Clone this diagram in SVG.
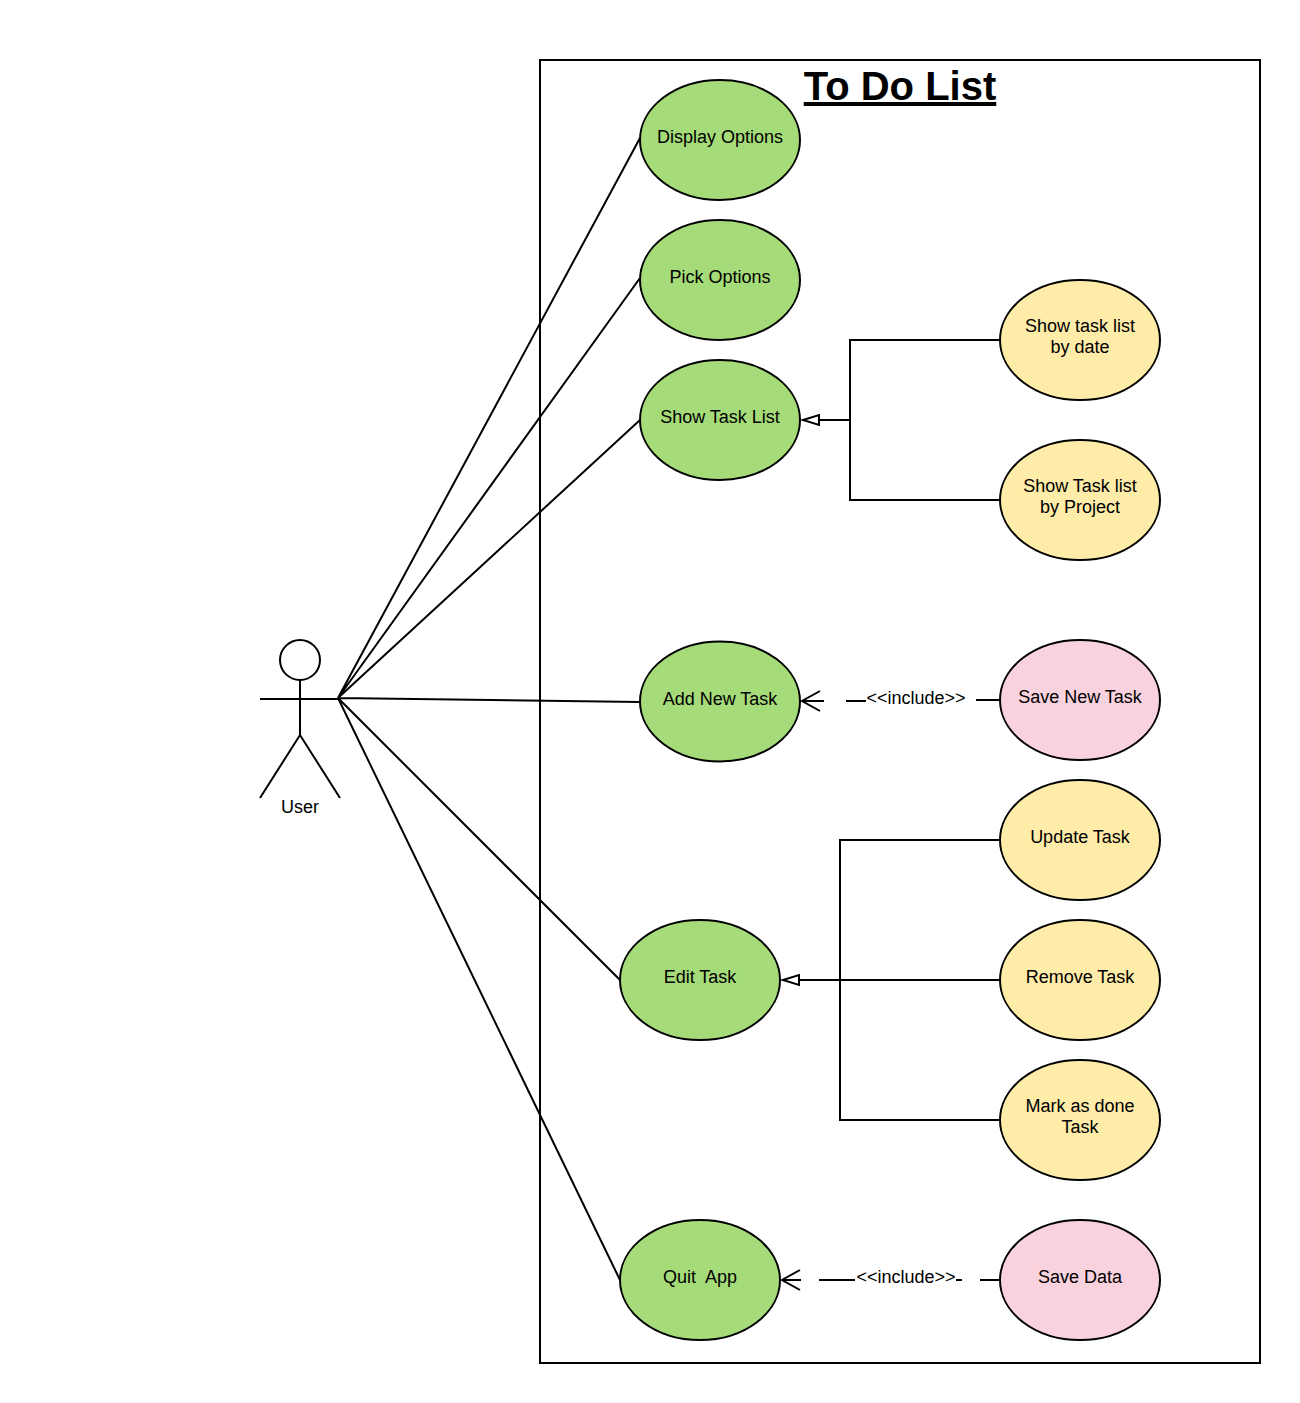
<svg xmlns="http://www.w3.org/2000/svg" width="1300" height="1403" viewBox="0 0 1300 1403">
<style>
text{font-family:"Liberation Sans",Arial,sans-serif;font-size:18px;fill:#000;text-anchor:middle}
.s{fill:none;stroke:#000;stroke-width:2}
.t{fill:#fff;stroke:#000;stroke-width:2}
.g{fill:#a5db78;stroke:#000;stroke-width:2}
.y{fill:#ffeca9;stroke:#000;stroke-width:2}
.p{fill:#f9d2de;stroke:#000;stroke-width:2}
.title{font-size:40px;font-weight:bold;text-decoration:underline}
</style>
<rect width="1300" height="1403" fill="#fff"/>
<g id="boundary"><rect class="s" x="540" y="60" width="720" height="1303"/><text class="title" x="900" y="100">To Do List</text></g>
<g id="connectors">
<path class="s" d="M338 698L640 138M338 698L640 278M338 698L640 420M338 698L640 702M338 698L620 980M338 698L620 1280"/>
<path class="s" d="M1000 340H850V420H820M1000 500H850V420"/>
<path class="t" d="M803 420L819 415V425Z"/>
<path class="s" d="M1000 840H840V980H800M1000 980H800M1000 1120H840V980"/>
<path class="t" d="M783 980L799 975V985Z"/>
<path class="s" d="M846 701H866M976 700H1000M820 691L802 701L820 711M802 701H824"/>
<path class="s" d="M819 1280H855M956 1280H962M980 1280H1000M800 1270L782 1280L800 1290M782 1280H801"/>
<text x="916" y="704">&lt;&lt;include&gt;&gt;</text>
<text x="906" y="1283">&lt;&lt;include&gt;&gt;</text>
</g>
<g id="user"><circle class="s" cx="300" cy="660" r="20"/><path class="s" d="M300 680V735M260 699H340M260 798L300 735L340 798"/><text x="300" y="813">User</text></g>
<g id="display-options"><ellipse class="g" cx="720" cy="140" rx="80" ry="60"/><text x="720" y="143">Display Options</text></g>
<g id="pick-options"><ellipse class="g" cx="720" cy="280" rx="80" ry="60"/><text x="720" y="283">Pick Options</text></g>
<g id="show-task-list"><ellipse class="g" cx="720" cy="420" rx="80" ry="60"/><text x="720" y="423">Show Task List</text></g>
<g id="add-new-task"><ellipse class="g" cx="720" cy="701.500" rx="80" ry="60"/><text x="720" y="705">Add New Task</text></g>
<g id="edit-task"><ellipse class="g" cx="700" cy="980" rx="80" ry="60"/><text x="700" y="983">Edit Task</text></g>
<g id="quit-app"><ellipse class="g" cx="700" cy="1280" rx="80" ry="60"/><text x="700" y="1283" xml:space="preserve">Quit  App</text></g>
<g id="by-date"><ellipse class="y" cx="1080" cy="340" rx="80" ry="60"/><text x="1080" y="332">Show task list</text><text x="1080" y="353">by date</text></g>
<g id="by-project"><ellipse class="y" cx="1080" cy="500" rx="80" ry="60"/><text x="1080" y="492">Show Task list</text><text x="1080" y="513">by Project</text></g>
<g id="save-new-task"><ellipse class="p" cx="1080" cy="700" rx="80" ry="60"/><text x="1080" y="703">Save New Task</text></g>
<g id="update-task"><ellipse class="y" cx="1080" cy="840" rx="80" ry="60"/><text x="1080" y="843">Update Task</text></g>
<g id="remove-task"><ellipse class="y" cx="1080" cy="980" rx="80" ry="60"/><text x="1080" y="983">Remove Task</text></g>
<g id="mark-done"><ellipse class="y" cx="1080" cy="1120" rx="80" ry="60"/><text x="1080" y="1112">Mark as done</text><text x="1080" y="1133">Task</text></g>
<g id="save-data"><ellipse class="p" cx="1080" cy="1280" rx="80" ry="60"/><text x="1080" y="1283">Save Data</text></g>
</svg>
